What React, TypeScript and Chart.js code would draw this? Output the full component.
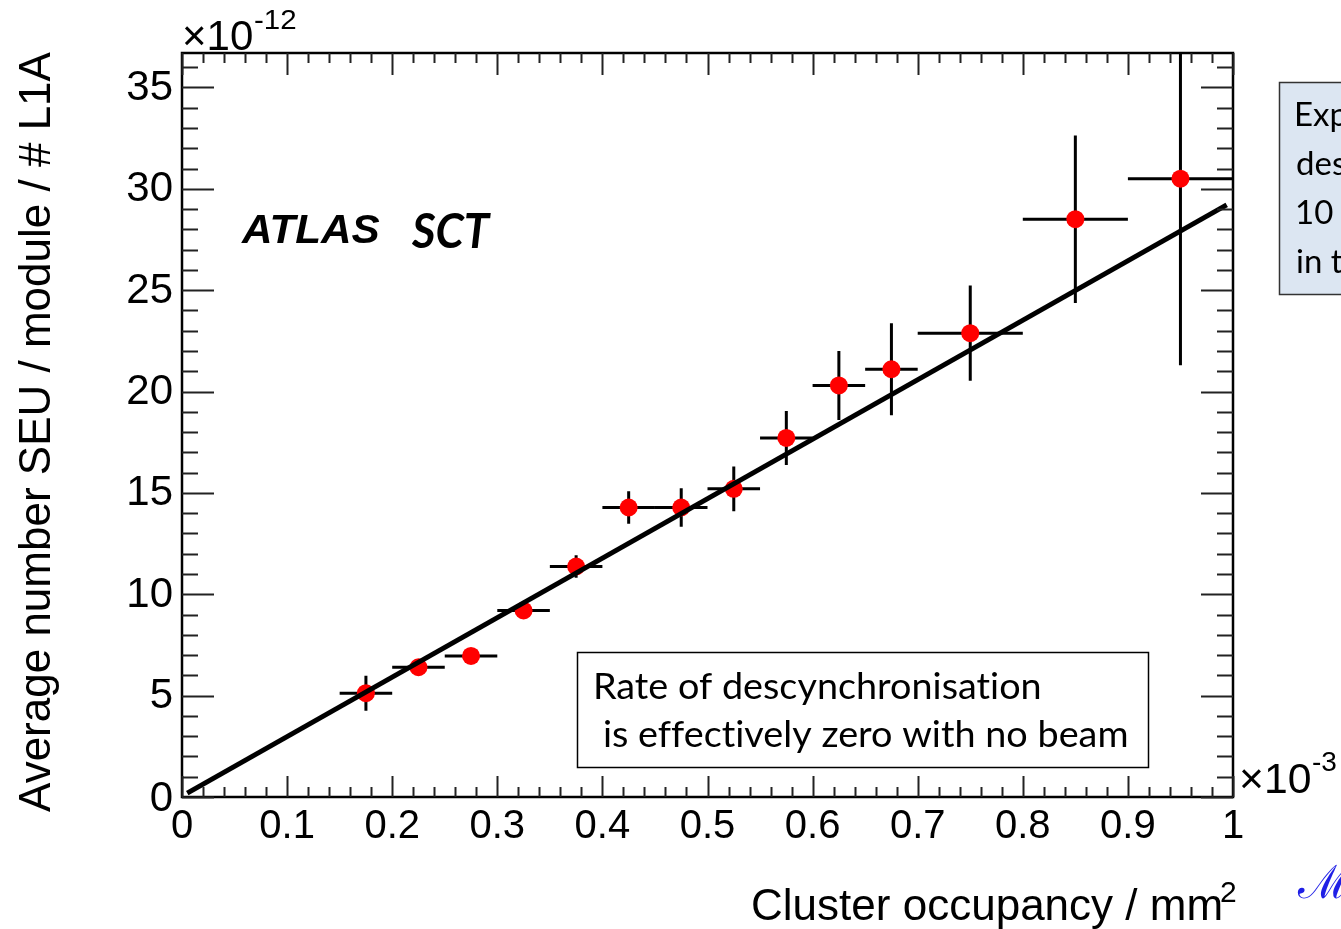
import { useEffect, useRef } from "react";
import { Chart, registerables } from "chart.js";

Chart.register(...registerables);

// ---- data ----
const occupancy = [0.175, 0.225, 0.275, 0.325, 0.375, 0.425, 0.475, 0.525, 0.575, 0.625, 0.675, 0.75, 0.85, 0.95];
const occupancyErr = [0.025, 0.025, 0.025, 0.025, 0.025, 0.025, 0.025, 0.025, 0.025, 0.025, 0.025, 0.05, 0.05, 0.05];
const seuRate = [5.12, 6.4, 6.96, 9.2, 11.37, 14.28, 14.28, 15.2, 17.71, 20.3, 21.1, 22.88, 28.5, 30.5];
const seuRateErr = [0.86, 0.3, 0.25, 0.35, 0.55, 0.8, 0.95, 1.1, 1.33, 1.7, 2.27, 2.35, 4.13, 9.2];
const fitX = [0.005, 0.994];
const fitY = [0.19, 29.21];
const xTickValues = [0, 0.1, 0.2, 0.3, 0.4, 0.5, 0.6, 0.7, 0.8, 0.9, 1];
const xTickLabels = ["0", "0.1", "0.2", "0.3", "0.4", "0.5", "0.6", "0.7", "0.8", "0.9", "1"];
const yTickValues = [0, 5, 10, 15, 20, 25, 30, 35];
const yTickLabels = ["0", "5", "10", "15", "20", "25", "30", "35"];
const xMinorStep = 0.02;
const yMinorStep = 1;
const yMax = 36.7;

const SANS = '"Liberation Sans", Arial, Helvetica, sans-serif';
const CAL = 'Lato, "Open Sans", sans-serif';

function inkText(
  ctx: CanvasRenderingContext2D,
  text: string,
  left: number,
  baseline: number,
  font: string,
  inkWidth?: number
) {
  ctx.save();
  ctx.font = font;
  (ctx as any).letterSpacing = "0.01px";
  ctx.textAlign = "left";
  ctx.textBaseline = "alphabetic";
  const m = ctx.measureText(text);
  const w = m.actualBoundingBoxLeft + m.actualBoundingBoxRight;
  const s = inkWidth ? inkWidth / w : 1;
  ctx.translate(left, baseline);
  ctx.scale(s, 1);
  ctx.fillText(text, m.actualBoundingBoxLeft, 0);
  ctx.restore();
}

const errorBars = {
  id: "errorBars",
  beforeDatasetsDraw(chart: any) {
    const { ctx, chartArea, scales } = chart;
    const xs = scales.x;
    const ys = scales.y;
    ctx.save();
    ctx.beginPath();
    ctx.rect(chartArea.left, chartArea.top, chartArea.right - chartArea.left, chartArea.bottom - chartArea.top);
    ctx.clip();
    ctx.strokeStyle = "#000";
    ctx.lineWidth = 3;
    ctx.lineCap = "butt";
    occupancy.forEach((x, i) => {
      const px = xs.getPixelForValue(x);
      const py = ys.getPixelForValue(seuRate[i]);
      ctx.beginPath();
      ctx.moveTo(xs.getPixelForValue(x - occupancyErr[i]), py);
      ctx.lineTo(xs.getPixelForValue(x + occupancyErr[i]), py);
      ctx.moveTo(px, ys.getPixelForValue(seuRate[i] - seuRateErr[i]));
      ctx.lineTo(px, ys.getPixelForValue(seuRate[i] + seuRateErr[i]));
      ctx.stroke();
    });
    ctx.restore();
  },
};

const decorations = {
  id: "decorations",
  afterDraw(chart: any) {
    const { ctx, chartArea, scales } = chart;
    const xs = scales.x;
    const ys = scales.y;
    const { left, right, top, bottom } = chartArea;
    ctx.save();

    // frame
    ctx.strokeStyle = "#000";
    ctx.lineWidth = 2.5;
    ctx.strokeRect(left, top, right - left, bottom - top);

    // x ticks (bottom and top)
    ctx.lineWidth = 2;
    ctx.strokeStyle = "#222";
    for (let k = 0; k <= 50; k++) {
      const v = k * xMinorStep;
      const px = Math.round(xs.getPixelForValue(v)) + 0.5;
      const major = k % 5 === 0;
      const lb = major ? 21 : 10;
      const lt = major ? 22 : 10;
      ctx.beginPath();
      ctx.moveTo(px, bottom);
      ctx.lineTo(px, bottom - lb);
      ctx.moveTo(px, top);
      ctx.lineTo(px, top + lt);
      ctx.stroke();
    }
    // y ticks (left and right)
    for (let k = 0; k <= Math.floor(yMax / yMinorStep); k++) {
      const v = k * yMinorStep;
      const py = Math.round(ys.getPixelForValue(v)) + 0.5;
      const major = k % 5 === 0;
      const l = major ? 32 : 16;
      ctx.beginPath();
      ctx.moveTo(left, py);
      ctx.lineTo(left + l, py);
      ctx.moveTo(right, py);
      ctx.lineTo(right - l, py);
      ctx.stroke();
    }

    ctx.fillStyle = "#000";
    // x tick labels
    ctx.font = `40px ${SANS}`;
    ctx.textAlign = "center";
    ctx.textBaseline = "alphabetic";
    xTickValues.forEach((v, i) => {
      ctx.fillText(xTickLabels[i], xs.getPixelForValue(v), 838);
    });
    // y tick labels
    ctx.font = `42px ${SANS}`;
    ctx.textAlign = "right";
    ctx.textBaseline = "middle";
    yTickValues.forEach((v, i) => {
      ctx.fillText(yTickLabels[i], 173, ys.getPixelForValue(v) + (v === 0 ? 2 : 1));
    });

    // exponents
    inkText(ctx, "×10", 184, 50, `42px ${SANS}`, 68);
    inkText(ctx, "-12", 255, 29, `28px ${SANS}`, 41);
    inkText(ctx, "×10", 1241, 793, `42px ${SANS}`, 69);
    inkText(ctx, "-3", 1313, 771, `28px ${SANS}`);

    // axis titles
    inkText(ctx, "Cluster occupancy / mm", 753, 920, `44px ${SANS}`);
    inkText(ctx, "2", 1221, 902, `30px ${SANS}`);
    ctx.save();
    ctx.translate(50, 432);
    ctx.rotate(-Math.PI / 2);
    ctx.font = `44px ${SANS}`;
    ctx.textAlign = "center";
    ctx.textBaseline = "alphabetic";
    ctx.fillText("Average number SEU / module / # L1A", 0, 0);
    ctx.restore();

    // ATLAS SCT
    inkText(ctx, "ATLAS", 241, 243, `italic bold 40px ${SANS}`, 139);
    inkText(ctx, "SCT", 411, 248, `italic bold 47px ${CAL}`, 80);

    // bottom text box
    ctx.fillStyle = "#fff";
    ctx.fillRect(577, 652, 572, 116);
    ctx.strokeStyle = "#000";
    ctx.lineWidth = 1.5;
    ctx.strokeRect(577.5, 652.5, 571, 115);
    ctx.fillStyle = "#000";
    inkText(ctx, "Rate of descynchronisation", 596, 699, `37px ${CAL}`, 444);
    inkText(ctx, "is effectively zero with no beam", 605, 747, `37px ${CAL}`, 522);

    // top-right text box (cut off by the page edge)
    ctx.fillStyle = "#dce6f2";
    ctx.fillRect(1279, 82, 80, 213);
    ctx.strokeStyle = "#333";
    ctx.lineWidth = 1.5;
    ctx.strokeRect(1279.5, 82.5, 80, 212);
    ctx.fillStyle = "#000";
    inkText(ctx, "Exp", 1297, 126, `33px ${CAL}`);
    inkText(ctx, "des", 1297, 175, `33px ${CAL}`);
    inkText(ctx, "10", 1297, 224, `33px ${CAL}`);
    inkText(ctx, "in t", 1297, 273, `33px ${CAL}`);

    // blue script M
    ctx.fillStyle = "#1f1fe6";
    inkText(ctx, "ℳ", 1297, 898, `46px "DejaVu Serif", serif`);

    ctx.restore();
  },
};

export default function App() {
  const canvasRef = useRef<HTMLCanvasElement | null>(null);

  useEffect(() => {
    document.body.style.margin = "0";
    const canvas = canvasRef.current;
    if (!canvas) return;
    const chart = new Chart(canvas, {
      type: "scatter",
      data: {
        datasets: [
          {
            label: "SEU rate",
            data: occupancy.map((x, i) => ({ x, y: seuRate[i] })),
            backgroundColor: "#ff0000",
            borderColor: "#ff0000",
            pointRadius: 9,
            pointHoverRadius: 9,
            borderWidth: 0,
            order: 2,
          },
          {
            label: "Fit",
            type: "line",
            data: fitX.map((x, i) => ({ x, y: fitY[i] })),
            borderColor: "#000",
            borderWidth: 5,
            pointRadius: 0,
            showLine: true,
            fill: false,
            order: 1,
          } as any,
        ],
      },
      options: {
        animation: false,
        responsive: false,
        maintainAspectRatio: false,
        events: [],
        layout: { padding: { left: 182, right: 108, top: 53, bottom: 132 } },
        plugins: { legend: { display: false }, tooltip: { enabled: false } },
        scales: {
          x: { type: "linear", min: 0, max: 1, display: false },
          y: { type: "linear", min: 0, max: yMax, display: false },
        },
      },
      plugins: [errorBars, decorations],
    });
    return () => chart.destroy();
  }, []);

  return (
    <div style={{ position: "absolute", left: 0, top: 0, width: 1341, height: 929, background: "#fff" }}>
      <canvas ref={canvasRef} width={1341} height={929} style={{ display: "block" }} />
    </div>
  );
}
